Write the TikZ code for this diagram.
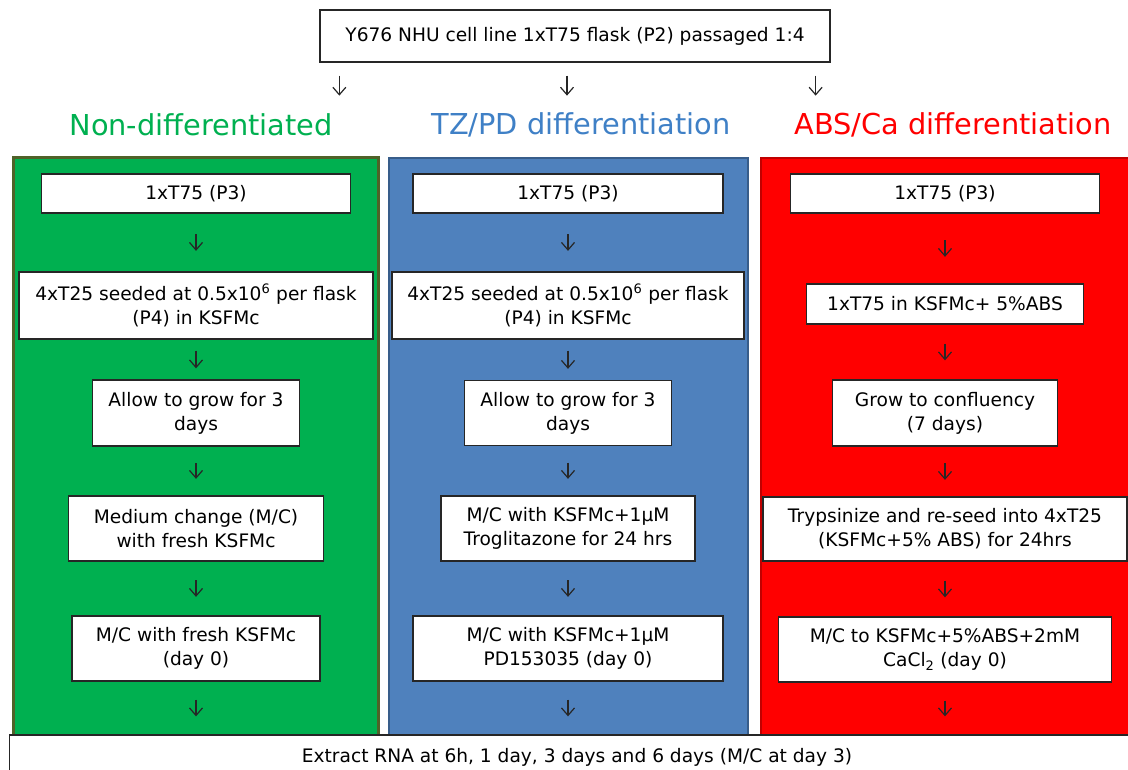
\documentclass[tikz,border=0pt]{standalone}
\usepackage{fontspec}
\setmainfont{DejaVu Sans}
\usepackage{tikz}
\usetikzlibrary{arrows.meta}

\definecolor{ndgreen}{HTML}{00B050}
\definecolor{ndedge}{HTML}{4F6228}
\definecolor{tzblue}{HTML}{4F81BD}
\definecolor{tzedge}{HTML}{385D8A}
\definecolor{tztext}{HTML}{3F80C6}
\definecolor{absred}{HTML}{FF0000}
\definecolor{absedge}{HTML}{C00000}

\newcommand{\boxfont}{\fontsize{18.6}{24}\selectfont}
\newcommand{\hdrfont}{\fontsize{28.8}{32}\selectfont}

\tikzset{
	stepbox/.style={draw=black!85, fill=white, line width=1.3pt, rectangle, align=center, inner sep=0pt, font=\boxfont},
	hdr/.style={font=\hdrfont},
	arr/.style={-{Straight Barb[length=7.5pt,width=13pt]}, line width=1.2pt, black!85},
	sh/.style={shorten <=#1pt, shorten >=#1pt}
}

\begin{document}
\begin{tikzpicture}[x=1pt, y=1pt]
		\useasboundingbox (0,0) rectangle (1128,769);
		
		% kolumny (tlo)
		\draw[fill=ndgreen, draw=ndedge, line width=3pt] (13,611) rectangle (378,-30);
		\draw[fill=tzblue, draw=tzedge, line width=2.5pt] (389,611) rectangle (748,-30);
		\draw[fill=absred, draw=absedge, line width=2.5pt] (761,611) rectangle (1145,-30);
		
		\node[stepbox, minimum width = 510, minimum height = 52] (top) at (575,733)
		{Y676 NHU cell line 1xT75 flask (P2) passaged 1:4};
		
		\node[hdr, text=ndgreen] (nd) at (201,644) {Non-differentiated};
		\node[hdr, text=tztext] (tz) at (581,644) {TZ/PD differentiation};
		\node[hdr, text=absred] (abs) at (953,644) {ABS/Ca differentiation};
		
		\draw[arr] ([xshift=20pt, yshift=-13pt]top.south west) -- ++(0,-20);
		\draw[arr] ([xshift=-8pt, yshift=-13pt]top.south) -- ++(0,-20);
		\draw[arr] ([xshift=-15pt, yshift=-13pt]top.south east) -- ++(0,-20);
		
		% Non-differentiated
		\node[stepbox, minimum width = 309, minimum height = 39] (g1) at (196,575.5) {1xT75 (P3)};
		\node[stepbox, minimum width = 354, minimum height = 67] (g2) at (196,463.5)
		{4xT25 seeded at 0.5x10\textsuperscript{6} per flask\\(P4) in KSFMc};
		\node[stepbox, minimum width = 207, minimum height = 66] (g3) at (196,356)
		{Allow to grow for 3\\days};
		\node[stepbox, minimum width = 255, minimum height = 65] (g4) at (196,240.5)
		{Medium change (M/C)\\with fresh KSFMc};
		\node[stepbox, minimum width = 248, minimum height = 65] (g5) at (196,120.5)
		{M/C with fresh KSFMc\\(day 0)};
		
		% TZ/PD
		\node[stepbox, minimum width = 310, minimum height = 39] (b1) at (568,575.5) {1xT75 (P3)};
		\node[stepbox, minimum width = 352, minimum height = 67] (b2) at (568,463.5)
		{4xT25 seeded at 0.5x10\textsuperscript{6} per flask\\(P4) in KSFMc};
		\node[stepbox, minimum width = 207, minimum height = 65] (b3) at (568,356)
		{Allow to grow for 3\\days};
		\node[stepbox, minimum width = 254, minimum height = 65] (b4) at (568,240.5)
		{M/C with KSFMc+1µM\\Troglitazone for 24 hrs};
		\node[stepbox, minimum width = 310, minimum height = 65] (b5) at (568,120.5)
		{M/C with KSFMc+1µM\\PD153035 (day 0)};
		
		% ABS/Ca
		\node[stepbox, minimum width = 309, minimum height = 39] (r1) at (945,575.5) {1xT75 (P3)};
		\node[stepbox, minimum width = 277, minimum height = 40] (r2) at (945,465)
		{1xT75 in KSFMc+ 5\%ABS};
		\node[stepbox, minimum width = 225, minimum height = 66] (r3) at (945,356)
		{Grow to confluency\\(7 days)};
		\node[stepbox, minimum width = 364, minimum height = 64] (r4) at (945,240)
		{Trypsinize and re-seed into 4xT25\\(KSFMc+5\% ABS) for 24hrs};
		\node[stepbox, minimum width = 333, minimum height = 65] (r5) at (945,119.5)
		{M/C to KSFMc+5\%ABS+2mM\\CaCl\textsubscript{2} (day 0)};
		
		\draw[arr, sh=20.5] (g1) -- (g2);
		\draw[arr, sh=11] (g2) -- (g3);
		\draw[arr, sh=16.5] (g3) -- (g4);
		\draw[arr, sh=18.5] (g4) -- (g5);
		
		\draw[arr, sh=20.5] (b1) -- (b2);
		\draw[arr, sh=11] (b2) -- (b3);
		\draw[arr, sh=16.5] (b3) -- (b4);
		\draw[arr, sh=18.5] (b4) -- (b5);
		
		\draw[arr, sh=26.5] (r1) -- (r2);
		\draw[arr, sh=19] (r2) -- (r3);
		\draw[arr, sh=16.5] (r3) -- (r4);
		\draw[arr, sh=19] (r4) -- (r5);
		
		\node[stepbox, minimum width = 1135, minimum height = 44] (rna) at (577,12)
		{Extract RNA at 6h, 1 day, 3 days and 6 days (M/C at day 3)};
		
		\draw[arr, sh=18] (g5) -- (g5 |- rna.north);
		\draw[arr, sh=18] (b5) -- (b5 |- rna.north);
		\draw[arr, sh=18] (r5) -- (r5 |- rna.north);
	\end{tikzpicture}
\end{document}
